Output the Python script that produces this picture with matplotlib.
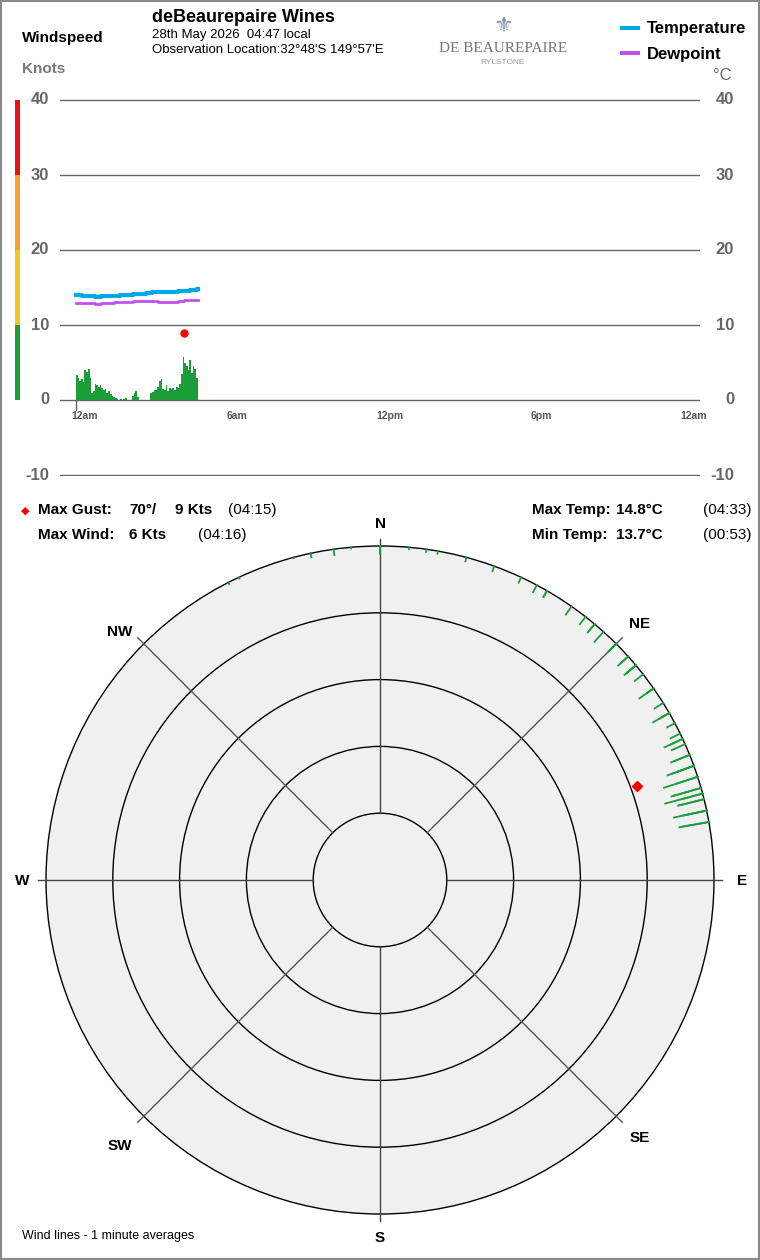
import matplotlib.pyplot as plt
import numpy as np
from matplotlib.patches import Circle, Rectangle

plt.rcParams['font.family'] = ['Liberation Sans', 'DejaVu Sans']

W, H = 760, 1260

# wind, 4-minute samples starting 00:00 (knots, degrees)
speed = [3.3, 3.0, 2.6, 2.8, 2.4, 4.0, 3.8, 4.2, 3.0, 1.0, 1.2,
         2.2, 2.0, 1.8, 2.0, 1.6, 1.4, 1.5, 1.0, 1.2, 0.8, 0.6, 0.4,
         0.3, 0.2, 0.0, 0.1, 0.0, 0.2, 0.3, 0.0, 0.0, 0.0, 0.6, 0.9, 1.2, 0.4,
         0, 0, 0, 0, 0, 0, 0,
         0.9, 1.1, 1.3, 1.4, 1.8, 2.6, 2.8, 1.5, 1.3, 2.0, 1.2, 1.6, 1.5, 1.6,
         1.4, 1.7, 1.6, 2.2,
         3.5, 5.8, 5.0, 4.5, 4.0, 5.3, 3.6, 4.6, 4.2, 3.0]
direction = [72, 75, 70, 78, 68, 80, 76, 74, 65, 60, 55,
             50, 48, 45, 42, 40, 38, 35, 30, 28, 20, 15, 10,
             5, 355, 350, 345, 340, 335, 333, 330, 336, 340, 348, 352, 0, 8,
             0, 0, 0, 0, 0, 0, 0,
             25, 30, 40, 45, 50, 55, 60, 58, 62, 65, 55, 50, 48, 52,
             45, 60, 64, 66,
             70, 75, 78, 80, 76, 72, 78, 74, 70, 68]
wind_minutes = [4 * i for i in range(len(speed))]

# temperature, 15-minute samples
temp_minutes = [15 * i for i in range(20)]
temperature = [14.0, 13.9, 13.9, 13.8, 13.9, 13.9, 13.9, 14.0, 14.0, 14.1,
               14.2, 14.3, 14.4, 14.4, 14.4, 14.4, 14.5, 14.6, 14.7, 14.8]
dewpoint = [13.0, 12.9, 12.9, 12.8, 12.9, 13.0, 13.1, 13.1, 13.1, 13.2,
            13.2, 13.2, 13.2, 13.1, 13.1, 13.1, 13.2, 13.3, 13.3, 13.3]

gust_time, gust_speed, gust_dir = 4.25, 9, 70
yticks = [40, 30, 20, 10, 0, -10]
xtick_labels = ['12am', '6am', '12pm', '6pm', '12am']

fig = plt.figure(figsize=(W / 100, H / 100), dpi=100)


def box(x0, y0, x1, y1):
    return [x0 / W, 1 - y1 / H, (x1 - x0) / W, (y1 - y0) / H]


def txt(x, y, s, **kw):
    kw.setdefault('fontsize', 10.5)
    kw.setdefault('va', 'center')
    fig.text(x / W, 1 - y / H, s, **kw)


fig.add_artist(Rectangle((0.001, 0.001), 0.998, 0.998, transform=fig.transFigure,
                         fill=False, ec='#888888', lw=1.5))

# ---- time series
ax = fig.add_axes(box(60, 99, 700, 476))
px_per_h = (685 - 76) / 24
ax.set_xlim(-16 / px_per_h, 24 + 15 / px_per_h)
ax.set_ylim(-10 - 1 / 7.5, 40 + 1 / 7.5)
for v in yticks:
    ax.axhline(v, color='#666666', lw=1)
    txt(49, 400 - v * 7.5, str(v), ha='right', color='#666666', fontsize=12, weight='bold')
    txt(734, 400 - v * 7.5, str(v), ha='right', color='#666666', fontsize=12, weight='bold')
ax.axis('off')
ax.bar([m / 60 for m in wind_minutes], speed, width=4 / 60, align='edge',
       color='#1a9e3a', lw=0)
ax.step([m / 60 for m in temp_minutes] + [4.8], temperature + [temperature[-1]],
        where='post', color='#00a8e8', lw=3)
ax.step([m / 60 for m in temp_minutes] + [4.8], dewpoint + [dewpoint[-1]],
        where='post', color='#c050f0', lw=2)
ax.plot([gust_time], [gust_speed], 'o', color='red', ms=5)
ax.plot([0, 0], [0, -1.3], color='#666666', lw=1, clip_on=False)
for i, lab in enumerate(xtick_labels):
    txt(85 + i * 6 * px_per_h, 416, lab, ha='center', fontsize=7.5, color='#555555', weight='bold')

# coloured windspeed scale
for lo, c in [(0, '#1a9e3a'), (10, '#f5c518'), (20, '#f5a030'), (30, '#e81010')]:
    fig.add_artist(Rectangle((15 / W, 1 - (400 - lo * 7.5) / H), 5 / W, 75 / H,
                             transform=fig.transFigure, color=c, lw=0))

# header texts
txt(22, 38, 'Windspeed', fontsize=11, weight='bold')
txt(22, 69, 'Knots', fontsize=11, weight='bold', color='#777777')
txt(152, 18, 'deBeaurepaire Wines', fontsize=13, weight='bold')
txt(152, 35, '28th May 2026  04:47 local', fontsize=9.5)
txt(152, 50, 'Observation Location:32°48\'S 149°57\'E', fontsize=9.5)
txt(503, 48, 'DE BEAUREPAIRE', ha='center', fontsize=11, color='#777777', family='Liberation Serif')
txt(503, 62, 'RYLSTONE', ha='center', fontsize=6, color='#999999')
txt(503, 26, '⚜', ha='center', fontsize=16, color='#7a8ea8', family='DejaVu Sans')
fig.add_artist(Rectangle((620 / W, 1 - 30 / H), 20 / W, 4 / H, transform=fig.transFigure, color='#00a8e8', lw=0))
fig.add_artist(Rectangle((620 / W, 1 - 55 / H), 20 / W, 4 / H, transform=fig.transFigure, color='#c050f0', lw=0))
txt(647, 29, 'Temperature', fontsize=12, weight='bold')
txt(647, 54, 'Dewpoint', fontsize=12, weight='bold')
txt(713, 75, '°C', fontsize=12, color='#666666')

# stats
txt(25, 511, '◆', fontsize=8, color='red', ha='center', family='DejaVu Sans')
txt(38, 510, 'Max Gust:', weight='bold', fontsize=11)
txt(129, 510, '70°/', weight='bold', fontsize=11)
txt(175, 510, '9 Kts', weight='bold', fontsize=11)
txt(228, 510, '(04:15)', fontsize=11)
txt(38, 535, 'Max Wind:', weight='bold', fontsize=11)
txt(129, 535, '6 Kts', weight='bold', fontsize=11)
txt(198, 535, '(04:16)', fontsize=11)
txt(532, 510, 'Max Temp:', weight='bold', fontsize=11)
txt(616, 510, '14.8°C', weight='bold', fontsize=11)
txt(703, 510, '(04:33)', fontsize=11)
txt(532, 535, 'Min Temp:', weight='bold', fontsize=11)
txt(616, 535, '13.7°C', weight='bold', fontsize=11)
txt(703, 535, '(00:53)', fontsize=11)
txt(22, 1236, 'Wind lines - 1 minute averages', fontsize=9)

# ---- wind rose
k = 334 / 50  # px per knot
pa = fig.add_axes(box(0, 520, 760, 1240))
pa.set_xlim(-380 / k, 380 / k)
pa.set_ylim(-360 / k, 360 / k)
pa.axis('off')
pa.add_patch(Circle((0, 0), 50, fc='#f0f0f0', ec='black', lw=1))
for r in [10, 20, 30, 40]:
    pa.add_patch(Circle((0, 0), r, fill=False, ec='black', lw=1))
for a, r1 in [(0, 51), (90, 51.2), (180, 51), (270, 50)]:
    t = np.radians(a)
    pa.plot([10 * np.sin(t), r1 * np.sin(t)], [10 * np.cos(t), r1 * np.cos(t)], color='#444444', lw=1)
for a in [45, 135, 225, 315]:
    t = np.radians(a)
    pa.plot([10 * np.sin(t), 51.3 * np.sin(t)], [10 * np.cos(t), 51.3 * np.cos(t)], color='#555555', lw=1)
pa.plot([-50, -51.2], [0, 0], color='#444444', lw=1)

for s, d in zip(speed, direction):
    if s <= 0:
        continue
    t = np.radians(d)
    pa.plot([50 * np.sin(t), (50 - s) * np.sin(t)], [50 * np.cos(t), (50 - s) * np.cos(t)],
            color='#1a9e3a', lw=1.3)
t = np.radians(gust_dir)
pa.plot([(50 - gust_speed) * np.sin(t)], [(50 - gust_speed) * np.cos(t)], 'D', color='red', ms=5)

for lab, x, y in [('N', 380, 524), ('NE', 640, 624), ('E', 742, 881), ('SE', 640, 1138),
                  ('S', 380, 1238), ('SW', 120, 1146), ('W', 22, 881), ('NW', 120, 632)]:
    txt(x, y, lab, ha='center', fontsize=11, weight='bold')

fig.savefig('out.png', dpi=100)
